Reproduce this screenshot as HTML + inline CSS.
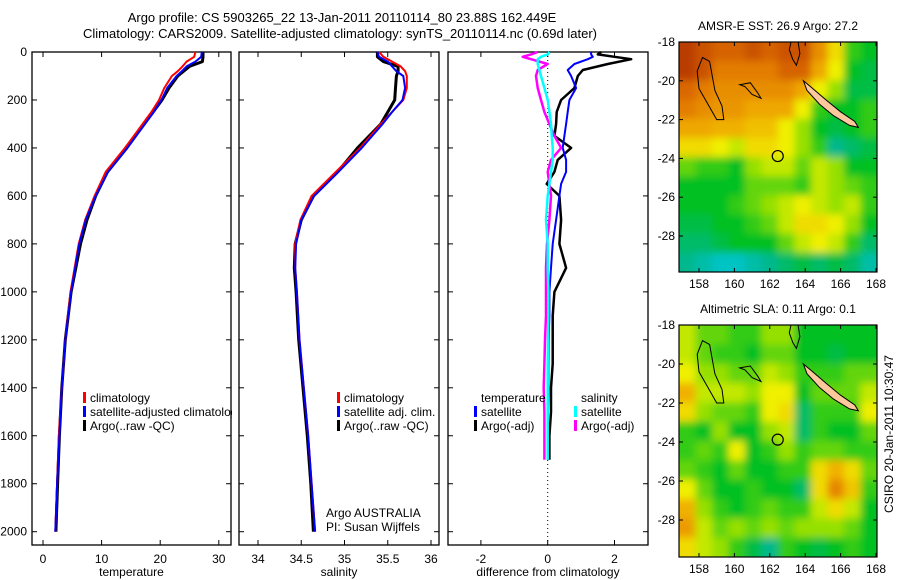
<!DOCTYPE html>
<html><head><meta charset="utf-8"><style>
html,body{margin:0;padding:0;background:#fff}
svg{display:block;font-family:"Liberation Sans",sans-serif}
text{font-size:12px;fill:#000}
</style></head><body>
<svg id="fig" width="900" height="580" viewBox="0 0 900 580" xmlns="http://www.w3.org/2000/svg">
<defs>
<filter id="blur" x="-5%" y="-5%" width="110%" height="110%"><feGaussianBlur stdDeviation="4"/></filter>
<clipPath id="clipA"><rect x="679" y="42" width="198" height="230"/></clipPath>
<clipPath id="clipB"><rect x="679" y="325" width="198" height="232"/></clipPath>
<clipPath id="clipT"><rect x="32" y="52" width="200" height="493"/></clipPath>
</defs>
<text x="342" y="22" text-anchor="middle" style="font-size:13px">Argo profile: CS 5903265_22 13-Jan-2011 20110114_80 23.88S 162.449E</text>
<text x="340" y="38" text-anchor="middle" style="font-size:13px">Climatology: CARS2009. Satellite-adjusted climatology: synTS_20110114.nc (0.69d later)</text>
<g id="root"></g>
</svg>
<script>
// ---------- data ----------
const depths = [0,20,40,60,80,100,150,200,250,300,400,500,600,700,800,900,1000,1200,1400,1600,1800,2000];
const tempArgo = [27.3,27.3,27.2,25,24,23,21.5,20.3,18.8,17.2,14.3,11.0,9.0,7.5,6.4,5.6,4.8,3.8,3.2,2.8,2.5,2.2];
const tempClim = [26,25.8,24.5,23.8,23,22,20.7,19.8,18.5,17,14.0,10.7,8.8,7.2,6.1,5.4,4.7,3.8,3.2,2.7,2.4,2.1];
const tempSat  = [27.1,27.0,26,24.5,23.7,22.8,21.2,20.2,18.9,17.4,14.4,11.1,9.0,7.3,6.2,5.5,4.8,3.8,3.2,2.8,2.4,2.1];
const salArgo = [35.38,35.38,35.45,35.62,35.62,35.6,35.59,35.58,35.5,35.42,35.15,34.92,34.64,34.5,34.43,34.42,34.44,34.47,34.52,34.57,34.61,34.64];
const salClim = [35.4,35.45,35.55,35.65,35.7,35.72,35.72,35.68,35.55,35.42,35.18,34.9,34.62,34.49,34.43,34.43,34.45,34.48,34.53,34.58,34.62,34.66];
const salSat  = [35.38,35.4,35.5,35.55,35.6,35.68,35.7,35.67,35.55,35.44,35.2,34.93,34.65,34.5,34.44,34.43,34.45,34.48,34.53,34.58,34.62,34.66];
const diffDepths = [0,10,20,30,50,75,100,150,200,250,300,350,400,450,500,550,600,700,800,900,1000,1100,1200,1300,1400,1500,1600,1700];
const dTempArgo = [1.6,1.5,2.0,2.5,1.8,1.05,0.9,0.8,0.4,0.27,0.25,0.2,0.7,0.3,0.2,-0.03,0.35,0.4,0.35,0.55,0.2,0.15,0.15,0.15,0.1,0.1,0.05,0.05];
const dTempSat  = [1.3,1.3,1.35,1.2,0.8,0.6,0.7,0.85,0.65,0.6,0.55,0.5,0.45,0.55,0.55,0.4,0.35,0.25,0.15,0.1,0.05,0.05,0.03,0.02,0.02,0.01,0.01,0.01];
const dSalArgo  = [-0.3,-0.5,-0.75,-0.5,0,-0.3,-0.35,-0.3,-0.2,-0.1,0.05,0.2,0.4,0.1,0,0.05,0.1,0.05,-0.02,-0.05,-0.05,-0.05,-0.08,-0.1,-0.12,-0.1,-0.1,-0.1];
const dSalSat   = [0.05,0,-0.2,-0.3,-0.3,-0.25,-0.2,-0.1,0,0.05,0.1,0.12,0.15,0.15,0.1,0.05,0,-0.05,0,0,0.02,0.02,0.01,0,0,0,0,0];
const depthTicks = [0,200,400,600,800,1000,1200,1400,1600,1800,2000];
const tempTicks = [0,10,20,30];
const salTicks = [34,34.5,35,35.5,36];
const salTickLabels = ["34","34.5","35","35.5","36"];
const diffTicks = [-2,0,2];
const lonTicks = [158,160,162,164,166,168];
const latTicks = [-18,-20,-22,-24,-26,-28];
const sstGrid = [
[.97,.92,.88,.88,.92,.88,.92,.92,.78,.6,.35,.3],
[.97,.92,.82,.82,.82,.82,.88,.88,.72,.55,.3,.25],
[.87,.82,.78,.78,.78,.78,.78,.72,.55,.45,.25,.25],
[.82,.78,.76,.76,.72,.72,.72,.55,.35,.3,.3,.35],
[.72,.72,.7,.7,.66,.66,.55,.45,.3,.25,.3,.35],
[.6,.6,.55,.5,.6,.6,.55,.45,.35,.15,.2,.25],
[.4,.35,.35,.3,.45,.5,.5,.4,.5,.45,.3,.3],
[.3,.3,.3,.3,.4,.4,.4,.35,.5,.45,.4,.35],
[.3,.3,.3,.35,.4,.45,.5,.55,.5,.45,.5,.35],
[.25,.25,.3,.3,.35,.4,.5,.6,.6,.55,.45,.3],
[.2,.2,.25,.3,.3,.3,.4,.5,.55,.5,.35,.2],
[.15,.1,.05,.05,.1,.15,.2,.25,.2,.25,.2,.1]];
const slaGrid = [
[.5,.4,.4,.35,.35,.45,.45,.3,.3,.3,.3,.3],
[.5,.4,.35,.35,.3,.4,.4,.3,.3,.25,.3,.3],
[.55,.45,.45,.4,.4,.5,.45,.35,.35,.35,.4,.4],
[.7,.5,.5,.5,.45,.55,.55,.3,.4,.4,.4,.5],
[.6,.45,.4,.4,.35,.55,.6,.2,.35,.35,.35,.55],
[.35,.3,.45,.3,.3,.45,.5,.2,.35,.3,.3,.4],
[.35,.4,.35,.55,.3,.35,.45,.35,.4,.4,.35,.35],
[.4,.35,.3,.4,.3,.3,.35,.35,.6,.7,.6,.4],
[.55,.4,.3,.3,.35,.3,.3,.2,.6,.8,.65,.35],
[.7,.45,.35,.3,.35,.4,.35,.35,.5,.6,.5,.3],
[.75,.5,.4,.45,.4,.45,.4,.45,.45,.45,.4,.3],
[.6,.5,.45,.35,.25,.15,.35,.3,.25,.3,.35,.3]];
const floatLon = 162.449, floatLat = -23.88;

// ---------- helpers ----------
const NS="http://www.w3.org/2000/svg";
const root=document.getElementById('root');
function mk(tag,attrs,parent){const e=document.createElementNS(NS,tag);for(const k in attrs)e.setAttribute(k,attrs[k]);(parent||root).appendChild(e);return e;}
function txt(x,y,s,anchor,parent,size){const t=mk('text',{x:x,y:y,'text-anchor':anchor||'start'},parent);if(size)t.style.fontSize=size+'px';t.textContent=s;return t;}
const yTop=52, yBot=545;
function yD(d){return yTop+(d/2000)*(531.7-yTop);}

function panel(name,x0,x1,xs,ticks,labels,xlabel,yLabels){
  const g=mk('g',{});
  
  
  const box=mk('rect',{x:x0,y:yTop,width:x1-x0,height:yBot-yTop,fill:'none',stroke:'#000','stroke-width':1.3},g);
  
  
  depthTicks.forEach(d=>{
    const y=yD(d);
    mk('line',{x1:x0,x2:x0+5,y1:y,y2:y,stroke:'#000'},g);
    mk('line',{x1:x1,x2:x1-5,y1:y,y2:y,stroke:'#000'},g);
    if(yLabels){const t=txt(x0-5,y+4,String(d),'end',g);
      
      }
  });
  ticks.forEach((v,i)=>{
    const x=xs(v);
    mk('line',{x1:x,x2:x,y1:yBot,y2:yBot-5,stroke:'#000'},g);
    mk('line',{x1:x,x2:x,y1:yTop,y2:yTop+5,stroke:'#000'},g);
    const t=txt(x,yBot+18,labels[i],'middle',g);
    
    
  });
  const xl=txt((x0+x1)/2,yBot+31,xlabel,'middle',g);
  
  
  return g;
}
function line(g,xs,vals,ds,color,w,name){
  const pts=vals.map((v,i)=>xs(v).toFixed(1)+','+yD(ds[i]).toFixed(1)).join(' ');
  const p=mk('polyline',{points:pts,fill:'none',stroke:color,'stroke-width':w,'stroke-linejoin':'round'},g);
  
  
}
function legend(g,x,y,color,label,name){
  if(color){mk('rect',{x:x,y:y-10,width:3,height:11,fill:color},g);}
  const t=txt(x+7,y,label,'start',g);
  
  
}

// ---------- temperature ----------
const xT=v=>43+v*5.86;
const gT=panel('temperature-panel',32,231,xT,tempTicks,tempTicks.map(String),'temperature',true);
line(gT,xT,tempArgo,depths,'#000',3,'argo-temperature-line');
line(gT,xT,tempClim,depths,'#f00',2,'climatology-temperature-line');
line(gT,xT,tempSat,depths,'#00f',2,'satellite-temperature-line');
const gTL=mk('g',{'clip-path':'url(#clipT)'},gT);


legend(gTL,83,402,'#f00','climatology','legend-climatology');
legend(gTL,83,416,'#00f','satellite-adjusted climatology','legend-satellite-adjusted');
legend(gTL,83,430,'#000','Argo(..raw -QC)','legend-argo');

// ---------- salinity ----------
const xS=v=>258+(v-34)*86.5;
const gS=panel('salinity-panel',239,439,xS,salTicks,salTickLabels,'salinity',false);
line(gS,xS,salArgo,depths,'#000',3,'argo-salinity-line');
line(gS,xS,salClim,depths,'#f00',2,'climatology-salinity-line');
line(gS,xS,salSat,depths,'#00f',2,'satellite-salinity-line');
legend(gS,337,402,'#f00','climatology','legend-climatology');
legend(gS,337,416,'#00f','satellite adj. clim.','legend-satellite-adj');
legend(gS,337,430,'#000','Argo(..raw -QC)','legend-argo');
const a1=txt(326,517,'Argo AUSTRALIA','start',gS);


const a2=txt(326,531,'PI: Susan Wijffels','start',gS);



// ---------- differences ----------
const xDf=v=>547.7+v*33.4;
const gD=panel('difference-panel',448,648,xDf,diffTicks,diffTicks.map(String),'difference from climatology',false);
mk('line',{x1:xDf(0),x2:xDf(0),y1:yTop,y2:yBot,stroke:'#000','stroke-dasharray':'1,3'},gD);
line(gD,xDf,dTempArgo,diffDepths,'#000',2.5,'argo-temperature-diff-line');
line(gD,xDf,dTempSat,diffDepths,'#00f',2,'satellite-temperature-diff-line');
line(gD,xDf,dSalArgo,diffDepths,'#f0f',2.5,'argo-salinity-diff-line');
line(gD,xDf,dSalSat,diffDepths,'#0ff',2.5,'satellite-salinity-diff-line');
legend(gD,474,402,null,'temperature','legend-temperature-heading');
legend(gD,474,416,'#00f','satellite','legend-temp-satellite');
legend(gD,474,430,'#000','Argo(-adj)','legend-temp-argo');
legend(gD,574,402,null,'salinity','legend-salinity-heading');
legend(gD,574,416,'#0ff','satellite','legend-sal-satellite');
legend(gD,574,430,'#f0f','Argo(-adj)','legend-sal-argo');

// ---------- maps ----------
const stops=[[0,[0,200,224]],[0.15,[0,184,140]],[0.3,[0,192,32]],[0.45,[150,224,0]],[0.55,[240,240,0]],[0.7,[240,176,0]],[0.85,[224,112,0]],[1,[176,48,0]]];
function cmap(v){for(let i=1;i<stops.length;i++){if(v<=stops[i][0]){const a=stops[i-1],b=stops[i],t=(v-a[0])/(b[0]-a[0]);return 'rgb('+a[1].map((c,k)=>Math.round(c+(b[1][k]-c)*t)).join(',')+')';}}return 'rgb(176,48,0)';}
const coastNC=[[163.9,-20.0],[164.3,-20.3],[165.2,-21.0],[166.0,-21.6],[166.8,-22.1],[167.0,-22.4],[166.5,-22.3],[165.6,-21.8],[164.8,-21.2],[164.1,-20.5]];
const coastA=[[157.9,-19.5],[158.2,-18.8],[158.6,-19.0],[158.9,-20.5],[159.3,-21.3],[159.4,-22.0],[159.0,-22.0],[158.5,-21.2],[158.0,-20.4]];
const coastB=[[160.3,-20.2],[160.9,-20.1],[161.3,-20.6],[161.5,-20.9],[161.0,-20.7],[160.6,-20.3]];
const coastC=[[163.2,-18.0],[163.6,-18.0],[163.7,-18.6],[163.5,-19.2],[163.3,-18.9],[163.1,-18.4]];
function drawMap(name,x0,y0,h,lat28y,grid,title,clipId){
  const g=mk('g',{});
  
  
  const w=198;
  const lx=lon=>699+(lon-158)*17.7;
  const ly=lat=>y0+(lat+18)/(-10)*(lat28y-y0);
  const cg=mk('g',{'clip-path':'url(#'+clipId+')'},g);
  mk('rect',{x:x0,y:y0,width:w,height:h,fill:cmap(0.4)},cg);
  const fg=mk('g',{filter:'url(#blur)'},cg);
  const nr=grid.length,nc=grid[0].length,cw=w/nc,ch=h/nr;
  grid.forEach((row,r)=>row.forEach((v,c)=>{
    let x=x0+c*cw,y=y0+r*ch,ww=cw+0.5,hh=ch+0.5;
    if(c===0){x-=12;ww+=12;} if(c===nc-1){ww+=12;}
    if(r===0){y-=12;hh+=12;} if(r===nr-1){hh+=12;}
    const cell=mk('rect',{x:x,y:y,width:ww,height:hh,fill:cmap(v)},fg);
    
    
  }));
  const P=arr=>arr.map(p=>lx(p[0]).toFixed(1)+','+ly(p[1]).toFixed(1)).join(' ');
  const nc1=mk('polygon',{points:P(coastNC),fill:'#fcc89c',stroke:'#000','stroke-width':1},cg);
  
  
  [coastA,coastB,coastC].forEach(c=>{const p=mk('polygon',{points:P(c),fill:'none',stroke:'#000','stroke-width':1},cg);
    
    });
  const circ=mk('circle',{cx:lx(floatLon),cy:ly(floatLat),r:5.5,fill:'none',stroke:'#000','stroke-width':1.2},g);
  
  
  mk('rect',{x:x0,y:y0,width:w,height:h,fill:'none',stroke:'#000','stroke-width':1.2},g);
  lonTicks.forEach(l=>{const x=lx(l);
    mk('line',{x1:x,x2:x,y1:y0+h,y2:y0+h-4,stroke:'#000'},g);
    mk('line',{x1:x,x2:x,y1:y0,y2:y0+4,stroke:'#000'},g);
    const t=txt(x,y0+h+16,String(l),'middle',g);
    
    });
  latTicks.forEach(l=>{const y=ly(l);
    mk('line',{x1:x0,x2:x0+4,y1:y,y2:y,stroke:'#000'},g);
    mk('line',{x1:x0+w,x2:x0+w-4,y1:y,y2:y,stroke:'#000'},g);
    const t=txt(x0-4,y+4,String(l),'end',g);
    
    });
  const tt=txt(x0+w/2,y0-12,title,'middle',g);
  
  
}
drawMap('sst-map',679,42,230,236,sstGrid,'AMSR-E SST: 26.9 Argo: 27.2','clipA');
drawMap('sla-map',679,325,232,520,slaGrid,'Altimetric SLA: 0.11 Argo: 0.1','clipB');
const stamp=txt(0,0,'CSIRO 20-Jan-2011 10:30:47','middle');
stamp.setAttribute('transform','translate(893,434) rotate(-90)');


</script>
</body></html>
